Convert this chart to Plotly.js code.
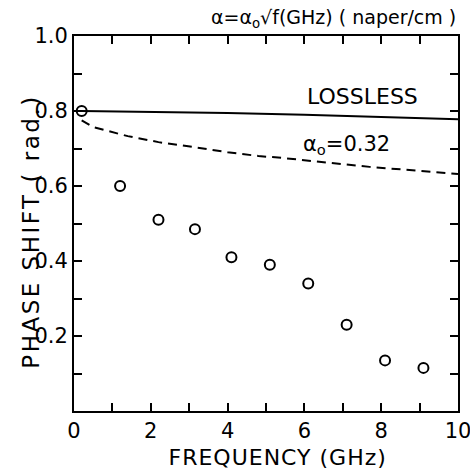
<!DOCTYPE html>
<html>
<head>
<meta charset="utf-8">
<script src="https://cdn.plot.ly/plotly-3.0.1.min.js"></script>
<style>html,body{margin:0;padding:0;background:#fff;}#chart{width:470px;height:470px;}</style>
</head>
<body>
<div id="chart"></div>
<script>
// Measured phase shift (circles)
const measFreq = [0.2, 1.2, 2.2, 3.15, 4.1, 5.1, 6.1, 7.1, 8.1, 9.1];
const measPhase = [0.80, 0.60, 0.51, 0.485, 0.41, 0.39, 0.34, 0.23, 0.135, 0.115];
// Lossless theory (solid)
const losslessFreq = [0.2, 2, 4, 6, 8, 10];
const losslessPhase = [0.800, 0.798, 0.795, 0.790, 0.785, 0.778];
// Lossy theory a0 = 0.32 (dashed)
const lossyFreq = [0.2, 0.5, 1.4, 2.2, 3.1, 4.0, 4.8, 5.4, 7.7, 10];
const lossyPhase = [0.775, 0.757, 0.733, 0.717, 0.704, 0.69, 0.68, 0.675, 0.651, 0.632];
// Tick labels (every tick drawn, labels on every other one)
const xTickVals = [0, 1, 2, 3, 4, 5, 6, 7, 8, 9, 10];
const xTickText = ['0', '', '2', '', '4', '', '6', '', '8', '', '10'];
const yTickVals = [0, 0.1, 0.2, 0.3, 0.4, 0.5, 0.6, 0.7, 0.8, 0.9, 1.0];
const yTickText = ['', '', '0.2', '', '0.4', '', '0.6', '', '0.8', '', '1.0'];

const FONT = 'DejaVu Sans, sans-serif';

const traces = [
  {x: losslessFreq, y: losslessPhase, mode: 'lines', line: {color: '#000', width: 2}},
  {x: lossyFreq, y: lossyPhase, mode: 'lines', line: {color: '#000', width: 2, dash: '9px,6px'}},
  {x: measFreq, y: measPhase, mode: 'markers', marker: {symbol: 'circle-open', size: 10, color: '#000', line: {width: 2, color: '#000'}}}
];

function axisBase() {
  return {
    showgrid: false, zeroline: false, showline: true, linecolor: '#000', linewidth: 2,
    mirror: 'ticks', ticks: 'inside', ticklen: 8, tickwidth: 2, tickcolor: '#000',
    layer: 'above traces', ticklabeloverflow: 'allow',
    tickfont: {family: FONT, size: 21, color: '#000'}
  };
}

const layout = {
  width: 470, height: 470,
  margin: {l: 74, r: 12, t: 36, b: 59},
  showlegend: false,
  xaxis: Object.assign(axisBase(), {range: [0, 10], tickmode: 'array', tickvals: xTickVals, ticktext: xTickText}),
  yaxis: Object.assign(axisBase(), {range: [0, 1], tickmode: 'array', tickvals: yTickVals, ticktext: yTickText}),
  annotations: [
    {x: 0.531, y: -0.125, xref: 'paper', yref: 'paper', xanchor: 'center', yanchor: 'middle',
     text: 'FREQUENCY (GHz)', showarrow: false,
     font: {family: FONT, size: 22, color: '#000'}},
    {x: -0.112, y: 0.48, xref: 'paper', yref: 'paper', xanchor: 'center', yanchor: 'middle',
     text: 'PHASE SHIFT ( rad.)', showarrow: false,
     textangle: -90, font: {family: FONT, size: 23, color: '#000'}},
    {x: 7.5, y: 0.84, xref: 'x', yref: 'y', text: 'LOSSLESS', showarrow: false,
     font: {family: FONT, size: 22, color: '#000'}},
    {x: 7.1, y: 0.71, xref: 'x', yref: 'y', text: 'α<sub>o</sub>=0.32', showarrow: false,
     font: {family: FONT, size: 21, color: '#000'}},
    {x: 1, y: 1, xref: 'paper', yref: 'paper', xanchor: 'right', yanchor: 'bottom', yshift: 3,
     text: 'α=α<sub>o</sub>√f(GHz) ( naper/cm )', showarrow: false,
     font: {family: FONT, size: 19, color: '#000'}}
  ]
};

Plotly.newPlot('chart', traces, layout, {displayModeBar: false}).then(function () {
  const ann = document.querySelectorAll('.annotation-text');
  if (ann[0]) ann[0].style.letterSpacing = '1px';
  if (ann[1]) ann[1].style.letterSpacing = '2.5px';
});
</script>
</body>
</html>
